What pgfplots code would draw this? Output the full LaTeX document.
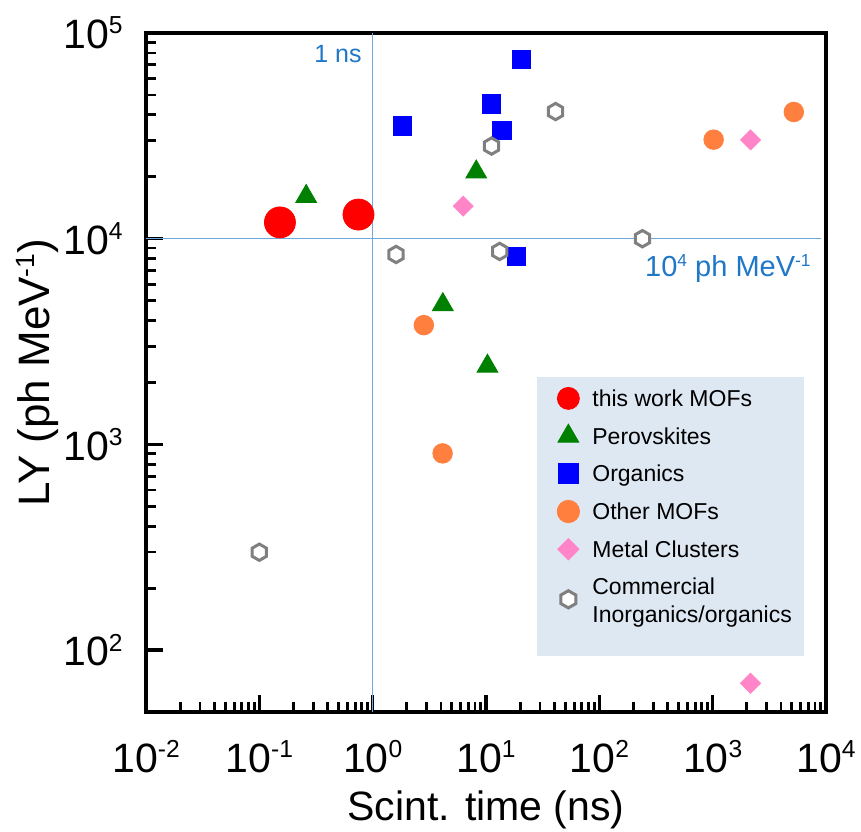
\documentclass[border=0pt]{standalone}
\usepackage{fontspec}
\setmainfont{Liberation Sans}
\usepackage{graphicx}
\usepackage{pgfplots}
\pgfplotsset{compat=1.18}
\usetikzlibrary{plotmarks}

\definecolor{cred}{HTML}{FF0000}
\definecolor{cgreen}{HTML}{008000}
\definecolor{cblue}{HTML}{0000FF}
\definecolor{corange}{HTML}{FF7F3F}
\definecolor{cpink}{HTML}{FF85C8}
\definecolor{cgray}{HTML}{808080}
\definecolor{legfill}{HTML}{DEE8F3}
\definecolor{refline}{HTML}{6FA8DC}
\definecolor{textblue}{HTML}{1F77C8}

\newcommand\su[1]{\raisebox{0.36em}{\scalebox{0.6}{#1}}}

\pgfdeclareplotmark{hexagon}{%
 \pgfpathmoveto{\pgfqpointpolar{90}{\pgfplotmarksize}}%
 \pgfpathlineto{\pgfqpointpolar{150}{\pgfplotmarksize}}%
 \pgfpathlineto{\pgfqpointpolar{210}{\pgfplotmarksize}}%
 \pgfpathlineto{\pgfqpointpolar{270}{\pgfplotmarksize}}%
 \pgfpathlineto{\pgfqpointpolar{330}{\pgfplotmarksize}}%
 \pgfpathlineto{\pgfqpointpolar{30}{\pgfplotmarksize}}%
 \pgfpathclose\pgfusepathqfillstroke}

\pgfplotsset{leg/.style={legend image code/.code={%
  \path[draw=none,fill=none] (-6pt,-6pt) (6pt,6pt);
  \draw[##1, mark size=#1] plot coordinates {(0pt,0pt)};}}}

\begin{document}
\begin{tikzpicture}
\begin{axis}[
  name=ax,
  xmode=log, ymode=log,
  scale only axis,
  width=340pt, height=339.5pt,
  xmin=0.01, xmax=10000,
  ymin=50, ymax=100000,
  xtick={0.01,0.1,1,10,100,1000,10000},
  xticklabels={10\su{-2},10\su{-1},10\su{0},10\su{1},10\su{2},10\su{3},10\su{4}},
  ytick={100,1000,10000,100000},
  yticklabels={10\su{2},10\su{3},10\su{4},10\su{5}},
  tick pos=left,
  tick align=inside,
  major tick length=8.5pt,
  minor tick length=5pt,
  every tick/.style={line width=1.5pt, black},
  every major tick/.style={line width=1.6pt, black},
  every minor tick/.style={line width=1.4pt, black},
  separate axis lines,
  axis line style={line width=1.6pt, line cap=rect},
  every outer x axis line/.append style={line width=1.6pt},
  every outer y axis line/.append style={line width=1.6pt},
  xticklabel style={font=\fontsize{20.5pt}{24pt}\selectfont, anchor=north, inner sep=0pt, yshift=-14pt},
  yticklabel style={font=\fontsize{20.5pt}{24pt}\selectfont, anchor=east, inner sep=0pt, xshift=-11.5pt},
  xlabel={Scint. time (ns)},
  ylabel={LY (ph MeV\su{-1})},
  xlabel style={font=\fontsize{20.5pt}{24pt}\selectfont, at={(axis description cs:0.5,0)}, anchor=base, yshift=-54pt, inner sep=0pt},
  ylabel style={font=\fontsize{22pt}{26pt}\selectfont, at={(axis description cs:-0.1412,0.5)}, anchor=base, inner sep=0pt},
  legend cell align=left,
  legend style={at={(axis description cs:0.6029,0.4801)}, anchor=north west,
    draw=none, fill=none, inner xsep=0pt, inner ysep=0pt,
    font=\fontsize{11.5pt}{14pt}\selectfont,
    row sep=6.85pt, column sep=6pt,
    nodes={inner sep=0pt, text height=8.6pt, text depth=0.6pt}},
]
% legend background
\fill[legfill] (axis description cs:0.575,0.0825) rectangle (axis description cs:0.968,0.493);

% reference lines
\addplot[forget plot, refline, line width=0.6pt] coordinates {(1,50) (1,100000)};
\addplot[forget plot, refline, line width=0.6pt] coordinates {(0.01,10000) (9000,10000)};

\node[anchor=base east, inner sep=0pt, text=textblue, font=\fontsize{12.5pt}{15pt}\selectfont] at (axis description cs:0.3176,0.956) {1 ns};
\node[anchor=base east, inner sep=0pt, text=textblue, font=\fontsize{14.5pt}{17pt}\selectfont] at (axis description cs:0.978,0.641) {10\su{4} ph MeV\su{-1}};

% this work MOFs
\addplot[only marks, mark=*, color=cred, mark size=7.75pt, leg=5.5pt] coordinates {
 (0.152,12000) (0.75,13100)
};
\addlegendentry{this work MOFs}
% Perovskites
\addplot[only marks, mark=triangle*, color=cgreen, mark size=6pt, leg=6pt] coordinates {
 (0.259,16050) (8.2,21100) (4.16,4780) (10.3,2400)
};
\addlegendentry{Perovskites}
% Organics
\addplot[only marks, mark=square*, color=cblue, mark size=4.6pt, leg=5pt] coordinates {
 (1.84,35300) (20.6,74600) (11.2,45200) (13.8,33600) (18.6,8200)
};
\addlegendentry{Organics}
% Other MOFs
\addplot[only marks, mark=*, color=corange, mark size=4.9pt, leg=5.6pt] coordinates {
 (2.83,3800) (4.14,904) (1020,30300) (5200,41300)
};
\addlegendentry{Other MOFs}
% Metal clusters
\addplot[only marks, mark=square*, mark options={rotate=45}, color=cpink, mark size=3.55pt, leg=3.75pt] coordinates {
 (6.3,14400) (2160,30200) (2160,69)
};
\addlegendentry{Metal Clusters}
% Commercial
\addplot[only marks, mark=hexagon, mark options={draw=cgray, fill=white, line width=1.5pt}, mark size=4.1pt, leg=4.3pt] coordinates {
 (1.61,8380) (0.1,299) (11.2,28200) (41.1,41500) (13.2,8670) (240,10000)
};
\addlegendentry[text height=, text depth=, yshift=-1.8pt]{\begin{tabular}{@{}l@{}}Commercial\\Inorganics/organics\end{tabular}}
\end{axis}
\path ([shift={(-73pt,356pt)}]ax.south west) rectangle ([shift={(357.5pt,-59.5pt)}]ax.south west);
\end{tikzpicture}
\end{document}
